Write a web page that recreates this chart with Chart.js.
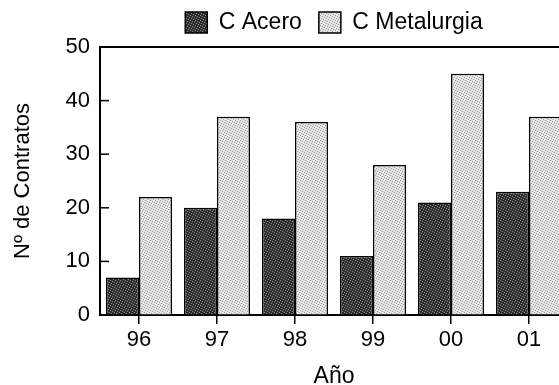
<!DOCTYPE html>
<html>
<head>
<meta charset="utf-8">
<script src="https://cdn.jsdelivr.net/npm/chart.js@4.4.0/dist/chart.umd.min.js"></script>
<style>
    html, body { margin: 0; padding: 0; background: #fff; overflow: hidden; }
    canvas { display: block; }
</style>
</head>
<body>
<canvas id="contratosChart" width="580" height="385"></canvas>
<script>
// Data
const years = ['96', '97', '98', '99', '00', '01'];
const aceroValues = [7, 20, 18, 11, 21, 23];
const metalurgiaValues = [22, 37, 36, 28, 45, 37];
const yTickValues = [0, 10, 20, 30, 40, 50];

// Stippled fill, like the printed halftone
function makeStipple(base, dot) {
    const c = document.createElement('canvas');
    c.width = 5;
    c.height = 5;
    const g = c.getContext('2d');
    g.fillStyle = base;
    g.fillRect(0, 0, 5, 5);
    g.fillStyle = dot;
    [[0, 0], [2, 1], [4, 2], [1, 3], [3, 4]].forEach(([x, y]) => g.fillRect(x, y, 1, 1));
    return g.createPattern(c, 'repeat');
}

const darkFill = makeStipple('#2e2e2e', '#8a8a8a');
const lightFill = makeStipple('#e4e4e4', '#a0a0a0');

// Legend sits centered over the plot, not the canvas
const legendShift = {
    id: 'legendShift',
    afterLayout(chart) {
        const lg = chart.legend;
        const area = chart.chartArea;
        const dx = (area.left + area.right) / 2 - (lg.left + lg.right) / 2;
        lg.left += dx;
        lg.right += dx;
        lg.top -= 3;
        lg.bottom -= 3;
    }
};

// Box frame and inward y ticks
const framePlugin = {
    id: 'frame',
    afterDraw(chart) {
        const ctx = chart.ctx;
        const area = chart.chartArea;
        const yScale = chart.scales.y;
        ctx.save();
        ctx.strokeStyle = '#000';
        ctx.lineWidth = 2;
        ctx.beginPath();
        ctx.moveTo(area.left, area.top);
        ctx.lineTo(area.right, area.top);
        ctx.lineTo(area.right, area.bottom);
        ctx.stroke();
        ctx.lineWidth = 1.5;
        yScale.ticks.forEach(t => {
            const y = yScale.getPixelForValue(t.value);
            ctx.beginPath();
            ctx.moveTo(area.left, y);
            ctx.lineTo(area.left + 9, y);
            ctx.stroke();
        });
        ctx.restore();
    }
};

const fontFamily = '"Liberation Sans", Arial, sans-serif';

new Chart(document.getElementById('contratosChart'), {
    type: 'bar',
    data: {
        labels: years,
        datasets: [{
            label: 'C Acero',
            data: aceroValues,
            backgroundColor: darkFill,
            borderColor: '#000',
            borderWidth: 1.5,
            categoryPercentage: 0.846,
            barPercentage: 1
        }, {
            label: 'C Metalurgia',
            data: metalurgiaValues,
            backgroundColor: lightFill,
            borderColor: '#000',
            borderWidth: 1.5,
            categoryPercentage: 0.846,
            barPercentage: 1
        }]
    },
    options: {
        responsive: false,
        animation: false,
        layout: {
            padding: { left: 0, right: 12, top: -3, bottom: 0 }
        },
        plugins: {
            legend: {
                display: true,
                position: 'top',
                labels: {
                    color: '#000',
                    font: { family: fontFamily, size: 23 },
                    boxWidth: 22,
                    boxHeight: 21,
                    padding: 17
                }
            },
            tooltip: { enabled: false }
        },
        scales: {
            x: {
                grid: {
                    offset: false,
                    drawOnChartArea: false,
                    drawTicks: true,
                    tickLength: 9,
                    color: '#000',
                    lineWidth: 1.5
                },
                border: { color: '#000', width: 2 },
                ticks: {
                    color: '#000',
                    font: { family: fontFamily, size: 22 },
                    padding: 3
                },
                title: {
                    display: true,
                    text: 'Año',
                    color: '#000',
                    font: { family: fontFamily, size: 23 },
                    padding: { top: 2, bottom: -5 }
                },
                afterFit(scale) { scale.height = 70; }
            },
            y: {
                min: 0,
                max: 50,
                ticks: {
                    stepSize: 5,
                    color: '#000',
                    font: { family: fontFamily, size: 22 },
                    padding: 10,
                    callback: v => (yTickValues.includes(v) ? v : '')
                },
                grid: {
                    drawOnChartArea: false,
                    drawTicks: false
                },
                border: { color: '#000', width: 2 },
                title: {
                    display: true,
                    text: 'Nº de Contratos',
                    color: '#000',
                    font: { family: fontFamily, size: 22 },
                    padding: { top: 10, bottom: 4 }
                },
                afterFit(scale) { scale.width = 100; }
            }
        }
    },
    plugins: [legendShift, framePlugin]
});
</script>
</body>
</html>
